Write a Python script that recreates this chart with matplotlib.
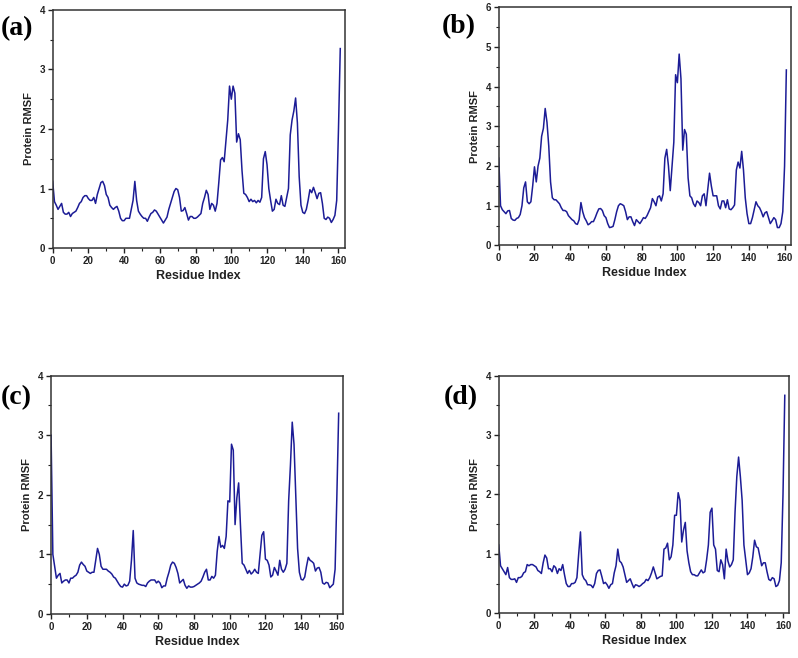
import numpy as np
import matplotlib
matplotlib.use("Agg")
import matplotlib.pyplot as plt
from matplotlib.ticker import MultipleLocator

# RMSF per residue (residues 0..161)
rmsf_a = [1.12, 0.78, 0.72, 0.65, 0.70, 0.75, 0.60, 0.57, 0.57, 0.60,
          0.53, 0.58, 0.60, 0.62, 0.68, 0.75, 0.78, 0.85, 0.88, 0.88,
          0.83, 0.80, 0.80, 0.85, 0.75, 0.90, 1.00, 1.10, 1.12, 1.05,
          0.90, 0.85, 0.72, 0.68, 0.65, 0.68, 0.70, 0.62, 0.50, 0.46,
          0.46, 0.50, 0.50, 0.50, 0.65, 0.80, 1.12, 0.80, 0.62, 0.57,
          0.53, 0.50, 0.50, 0.45, 0.52, 0.58, 0.60, 0.64, 0.62, 0.57,
          0.52, 0.47, 0.42, 0.47, 0.52, 0.65, 0.75, 0.85, 0.95, 1.00,
          0.98, 0.85, 0.62, 0.63, 0.68, 0.58, 0.47, 0.53, 0.53, 0.50,
          0.50, 0.52, 0.55, 0.58, 0.75, 0.85, 0.97, 0.90, 0.65, 0.75,
          0.72, 0.62, 0.75, 1.10, 1.48, 1.52, 1.45, 1.80, 2.15, 2.72,
          2.50, 2.72, 2.60, 1.78, 1.92, 1.82, 1.30, 0.92, 0.90, 0.85,
          0.78, 0.82, 0.78, 0.80, 0.76, 0.80, 0.77, 0.85, 1.50, 1.62,
          1.40, 1.00, 0.80, 0.62, 0.65, 0.82, 0.75, 0.73, 0.88, 0.72,
          0.70, 0.85, 1.00, 1.90, 2.15, 2.30, 2.52, 2.10, 1.20, 0.72,
          0.60, 0.58, 0.65, 0.80, 0.98, 0.93, 1.02, 0.93, 0.83, 0.92,
          0.93, 0.75, 0.50, 0.48, 0.52, 0.50, 0.43, 0.48, 0.55, 0.80,
          2.00, 3.35]

rmsf_b = [2.20, 1.00, 0.90, 0.85, 0.80, 0.87, 0.88, 0.68, 0.64, 0.63,
          0.68, 0.70, 0.78, 1.00, 1.45, 1.60, 1.10, 1.05, 1.10, 1.50,
          1.98, 1.60, 2.00, 2.20, 2.75, 2.95, 3.45, 3.10, 2.50, 1.60,
          1.20, 1.15, 1.15, 1.10, 1.05, 0.95, 0.88, 0.88, 0.85, 0.75,
          0.70, 0.65, 0.62, 0.55, 0.53, 0.65, 1.08, 0.85, 0.70, 0.62,
          0.52, 0.55, 0.60, 0.60, 0.70, 0.82, 0.92, 0.93, 0.88, 0.75,
          0.70, 0.55, 0.45, 0.46, 0.48, 0.65, 0.85, 1.00, 1.05, 1.03,
          1.00, 0.85, 0.65, 0.72, 0.72, 0.60, 0.50, 0.65, 0.60, 0.55,
          0.62, 0.70, 0.68, 0.75, 0.85, 0.95, 1.18, 1.10, 1.00, 1.22,
          1.25, 1.12, 1.30, 2.20, 2.42, 2.00, 1.38, 2.00, 2.60, 4.30,
          4.10, 4.82, 4.20, 2.40, 2.92, 2.80, 1.70, 1.25, 1.20, 1.05,
          0.98, 1.12, 1.08, 1.00, 1.25, 1.30, 1.00, 1.40, 1.82, 1.50,
          1.25, 1.25, 1.25, 1.00, 0.92, 1.12, 1.12, 0.95, 1.15, 0.92,
          0.90, 0.95, 1.02, 1.90, 2.10, 1.95, 2.37, 1.90, 1.20, 0.80,
          0.55, 0.55, 0.70, 0.90, 1.10, 1.00, 0.95, 0.85, 0.72, 0.82,
          0.85, 0.70, 0.55, 0.62, 0.70, 0.65, 0.45, 0.45, 0.55, 0.85,
          2.00, 4.42]

rmsf_c = [3.00, 1.00, 0.80, 0.60, 0.65, 0.68, 0.52, 0.55, 0.57, 0.57,
          0.52, 0.60, 0.60, 0.63, 0.65, 0.70, 0.82, 0.87, 0.83, 0.80,
          0.72, 0.70, 0.68, 0.70, 0.70, 0.90, 1.10, 1.00, 0.80, 0.75,
          0.75, 0.75, 0.72, 0.70, 0.67, 0.62, 0.60, 0.55, 0.50, 0.46,
          0.45, 0.50, 0.47, 0.48, 0.55, 0.90, 1.40, 0.60, 0.52, 0.50,
          0.49, 0.48, 0.48, 0.46, 0.52, 0.55, 0.57, 0.57, 0.57, 0.52,
          0.55, 0.52, 0.44, 0.47, 0.47, 0.60, 0.70, 0.82, 0.87, 0.85,
          0.78, 0.68, 0.52, 0.55, 0.58, 0.48, 0.43, 0.47, 0.45, 0.45,
          0.46, 0.48, 0.50, 0.52, 0.55, 0.62, 0.70, 0.75, 0.57, 0.57,
          0.63, 0.60, 0.65, 1.05, 1.30, 1.12, 1.15, 1.10, 1.30, 1.90,
          1.88, 2.85, 2.75, 1.50, 1.95, 2.20, 1.50, 0.85, 0.82, 0.75,
          0.68, 0.73, 0.67, 0.70, 0.75, 0.70, 0.68, 1.00, 1.32, 1.38,
          0.92, 0.90, 0.82, 0.62, 0.65, 0.78, 0.72, 0.65, 0.90, 0.75,
          0.70, 0.75, 0.85, 1.90, 2.50, 3.22, 2.85, 2.00, 1.10, 0.70,
          0.58, 0.57, 0.62, 0.80, 0.95, 0.90, 0.88, 0.85, 0.72, 0.77,
          0.78, 0.70, 0.52, 0.50, 0.53, 0.52, 0.44, 0.47, 0.50, 0.75,
          2.00, 3.37]

rmsf_d = [1.15, 0.80, 0.75, 0.70, 0.65, 0.77, 0.60, 0.57, 0.57, 0.58,
          0.52, 0.60, 0.60, 0.62, 0.68, 0.70, 0.82, 0.80, 0.82, 0.82,
          0.80, 0.78, 0.72, 0.70, 0.67, 0.85, 0.98, 0.93, 0.75, 0.75,
          0.70, 0.80, 0.77, 0.67, 0.75, 0.72, 0.82, 0.65, 0.50, 0.45,
          0.45, 0.50, 0.50, 0.52, 0.60, 1.00, 1.37, 0.65, 0.58, 0.55,
          0.48, 0.48, 0.47, 0.43, 0.50, 0.67, 0.72, 0.73, 0.62, 0.50,
          0.52, 0.48, 0.42, 0.48, 0.50, 0.68, 0.80, 1.08, 0.88, 0.85,
          0.78, 0.65, 0.52, 0.55, 0.58, 0.50, 0.43, 0.48, 0.47, 0.45,
          0.47, 0.50, 0.52, 0.57, 0.55, 0.60, 0.68, 0.78, 0.68, 0.58,
          0.60, 0.62, 0.63, 1.08, 1.10, 1.18, 0.90, 0.95, 1.15, 1.65,
          1.65, 2.03, 1.90, 1.20, 1.40, 1.53, 1.05, 0.85, 0.70, 0.65,
          0.65, 0.63, 0.63, 0.68, 0.73, 0.68, 0.70, 0.90, 1.15, 1.70,
          1.77, 1.15, 1.08, 0.72, 0.70, 0.90, 0.82, 0.58, 1.08, 0.88,
          0.78, 0.82, 0.90, 1.70, 2.30, 2.63, 2.30, 1.90, 1.15, 0.90,
          0.65, 0.68, 0.75, 0.95, 1.23, 1.12, 1.10, 0.95, 0.80, 0.85,
          0.85, 0.70, 0.57, 0.55, 0.60, 0.58, 0.45, 0.47, 0.55, 0.85,
          2.00, 3.67]

panel_labels = ["(a)", "(b)", "(c)", "(d)"]
y_max = [4, 6, 4, 4]

line_color = "#1c1c96"
sans = ["Liberation Sans", "DejaVu Sans"]

fig = plt.figure(figsize=(7.98, 6.58), dpi=100)

# axes boxes [left, bottom, width, height] in figure fraction
boxes = [
    [0.066, 0.623, 0.366, 0.362],
    [0.625, 0.627, 0.366, 0.362],
    [0.064, 0.067, 0.366, 0.362],
    [0.625, 0.068, 0.364, 0.361],
]
label_pos = [(0.001, 0.957), (0.553, 0.960), (0.001, 0.396), (0.556, 0.396)]

for data, lab, ymax, box, lp in zip([rmsf_a, rmsf_b, rmsf_c, rmsf_d],
                                     panel_labels, y_max, boxes, label_pos):
    ax = fig.add_axes(box)
    residues = np.arange(len(data))
    ax.plot(residues, data, color=line_color, lw=1.1)
    ax.set_xlim(0, 163.5)
    ax.set_ylim(0, ymax)
    ax.xaxis.set_major_locator(MultipleLocator(20))
    ax.xaxis.set_minor_locator(MultipleLocator(10))
    ax.yaxis.set_major_locator(MultipleLocator(1))
    ax.yaxis.set_minor_locator(MultipleLocator(0.5))
    ax.tick_params(which="major", direction="out", length=3.5, width=1,
                   colors="#222222", labelsize=7, pad=2)
    ax.tick_params(which="minor", direction="out", length=2, width=0.8,
                   colors="#222222")
    for t in ax.get_xticklabels() + ax.get_yticklabels():
        t.set_fontweight("bold")
        t.set_family(sans)
    for s in ax.spines.values():
        s.set_color("#333333")
        s.set_linewidth(1.1)
    ax.set_xlabel("Residue Index", fontsize=9, fontweight="bold",
                  family=sans, color="#222222", labelpad=3)
    ax.set_ylabel("Protein RMSF", fontsize=8, fontweight="bold",
                  family=sans, color="#222222", labelpad=4)
    fig.text(lp[0], lp[1], lab, fontsize=20, fontweight="bold",
             family=["Liberation Serif", "DejaVu Serif"], va="center")

fig.savefig("out.png", dpi=100)
